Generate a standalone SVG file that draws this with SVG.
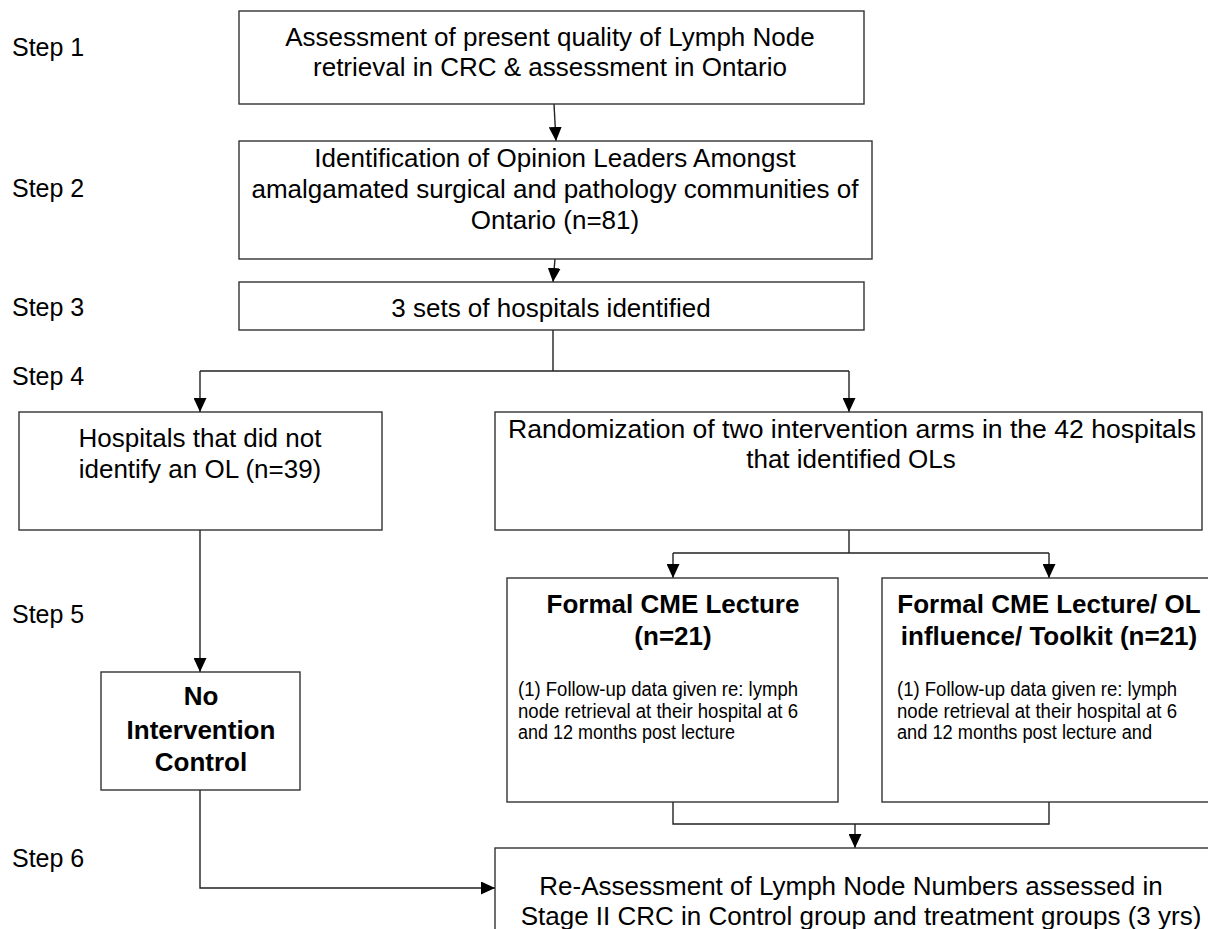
<svg xmlns="http://www.w3.org/2000/svg" width="1208" height="929" viewBox="0 0 1208 929">
<style>
.box{fill:#fff;stroke:#333;stroke-width:1.4}
.t{font-family:"Liberation Sans",Arial,sans-serif;font-size:26px;fill:#000}
.st{font-family:"Liberation Sans",Arial,sans-serif;font-size:25px;fill:#000}
.c{text-anchor:middle}
.b{font-weight:bold}
.s{font-family:"Liberation Sans",Arial,sans-serif;font-size:20px;fill:#000}
.ln{fill:none;stroke:#222;stroke-width:1.4}
</style>
<defs>
<marker id="ah" viewBox="0 0 14 13" refX="14" refY="6.5" markerWidth="14" markerHeight="13" markerUnits="userSpaceOnUse" orient="auto">
<path d="M0,0 L14,6.5 L0,13 z" fill="#000"/>
</marker>
</defs>
<rect width="1208" height="929" fill="#fff"/>
<g id="steps">
<text class="st" x="12" y="56">Step 1</text>
<text class="st" x="12" y="197">Step 2</text>
<text class="st" x="12" y="316">Step 3</text>
<text class="st" x="12" y="385">Step 4</text>
<text class="st" x="12" y="623">Step 5</text>
<text class="st" x="12" y="867">Step 6</text>
</g>
<g id="connectors">
<path class="ln" d="M554,104 L556,141" marker-end="url(#ah)"/>
<path class="ln" d="M555,259 L553,282" marker-end="url(#ah)"/>
<path class="ln" d="M553,330 V371 M200,371 H849"/>
<path class="ln" d="M200,371 V412" marker-end="url(#ah)"/>
<path class="ln" d="M849,371 V412" marker-end="url(#ah)"/>
<path class="ln" d="M200,530 V672" marker-end="url(#ah)"/>
<path class="ln" d="M849,530 V553 M673,553 H1049"/>
<path class="ln" d="M673,553 V578" marker-end="url(#ah)"/>
<path class="ln" d="M1049,553 V578" marker-end="url(#ah)"/>
<path class="ln" d="M673,802 V824 H1049 V802"/>
<path class="ln" d="M855,824 V848" marker-end="url(#ah)"/>
<path class="ln" d="M200,790 V888 H495" marker-end="url(#ah)"/>
</g>
<g id="n1">
<rect class="box" x="239" y="11" width="625" height="93"/>
<text class="t c" x="550" y="46">Assessment of present quality of Lymph Node</text>
<text class="t c" x="550" y="76">retrieval in CRC &amp; assessment in Ontario</text>
</g>
<g id="n2">
<rect class="box" x="239" y="141" width="633" height="118"/>
<text class="t c" x="555" y="167">Identification of Opinion Leaders Amongst</text>
<text class="t c" x="555" y="198">amalgamated surgical and pathology communities of</text>
<text class="t c" x="555" y="229">Ontario (n=81)</text>
</g>
<g id="n3">
<rect class="box" x="239" y="282" width="625" height="48"/>
<text class="t c" x="551" y="317">3 sets of hospitals identified</text>
</g>
<g id="n4">
<rect class="box" x="19" y="412" width="363" height="118"/>
<text class="t c" x="200" y="447">Hospitals that did not</text>
<text class="t c" x="200" y="478">identify an OL (n=39)</text>
</g>
<g id="n5">
<rect class="box" x="495" y="412" width="707" height="118"/>
<text class="t c" x="852" y="438" textLength="688" lengthAdjust="spacingAndGlyphs">Randomization of two intervention arms in the 42 hospitals</text>
<text class="t c" x="851" y="468">that identified OLs</text>
</g>
<g id="n6">
<rect class="box" x="101" y="672" width="199" height="118"/>
<text class="t c b" x="201" y="705">No</text>
<text class="t c b" x="201" y="739">Intervention</text>
<text class="t c b" x="201" y="771">Control</text>
</g>
<g id="n7">
<rect class="box" x="507" y="578" width="331" height="224"/>
<text class="t c b" x="673" y="613">Formal CME Lecture</text>
<text class="t c b" x="673" y="645">(n=21)</text>
<text class="s" x="518" y="696" textLength="280" lengthAdjust="spacingAndGlyphs">(1) Follow-up data given re: lymph</text>
<text class="s" x="518" y="718" textLength="280" lengthAdjust="spacingAndGlyphs">node retrieval at their hospital at  6</text>
<text class="s" x="518" y="739" textLength="217" lengthAdjust="spacingAndGlyphs">and 12 months post lecture</text>
</g>
<g id="n8">
<rect class="box" x="882" y="578" width="334" height="224"/>
<text class="t c b" x="1049" y="613">Formal CME Lecture/ OL</text>
<text class="t c b" x="1049" y="645">influence/ Toolkit (n=21)</text>
<text class="s" x="897" y="696" textLength="280" lengthAdjust="spacingAndGlyphs">(1) Follow-up data given re: lymph</text>
<text class="s" x="897" y="718" textLength="280" lengthAdjust="spacingAndGlyphs">node retrieval at their hospital at  6</text>
<text class="s" x="897" y="739" textLength="255" lengthAdjust="spacingAndGlyphs">and 12 months post lecture and</text>
</g>
<g id="n9">
<rect class="box" x="495" y="848" width="720" height="100"/>
<text class="t c" x="851" y="895">Re-Assessment of Lymph Node Numbers assessed in</text>
<text class="t c" x="861" y="925">Stage II CRC in Control group and treatment groups (3 yrs)</text>
</g>
</svg>
